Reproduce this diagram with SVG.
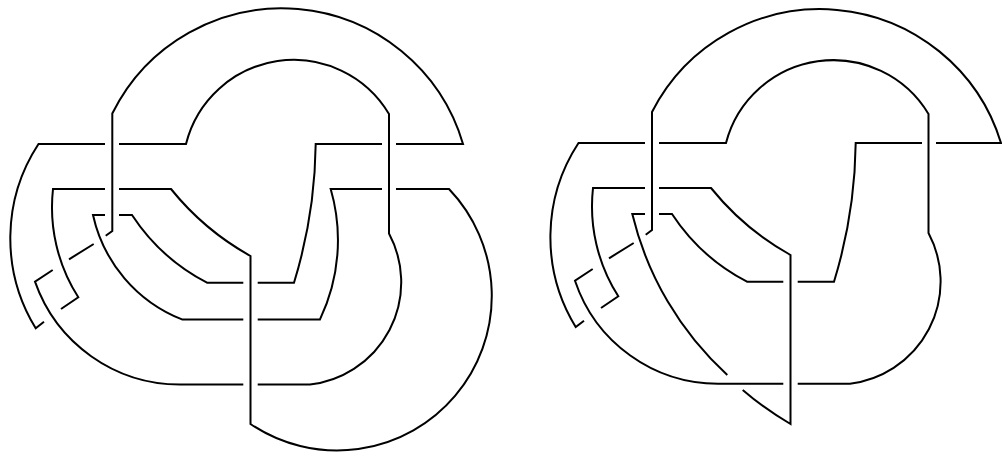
<svg xmlns="http://www.w3.org/2000/svg" width="1002" height="458" viewBox="0 0 1002 458">
<style>path{fill:none;stroke:#000;stroke-width:2;stroke-linejoin:miter;stroke-linecap:butt}</style>
<rect width="1002" height="458" fill="#fff"/>
<g id="left-knot">
<path d="M105 144H38.5A172 172 0 0 0 35.7 328.3L44 321.7"/>
<path d="M119 144H186A111 111 0 0 1 389 114V233.5A103 103 0 0 1 310 384.5H257.7"/>
<path d="M243.3 384.5H180A153.6 153.6 0 0 1 35 281.7L52.7 270"/>
<path d="M69 259.3L93.7 244"/>
<path d="M105.7 235.7L112.3 231V113.5A189 189 0 0 1 463 144H396"/>
<path d="M382 144H315.7A490 490 0 0 1 294 282.7H257.7"/>
<path d="M243.3 282.7H207A200 200 0 0 1 132 215H119"/>
<path d="M105 215H93A146 146 0 0 0 182 319.4H243.3"/>
<path d="M257.7 319.4H320A184 184 0 0 0 330.7 189H382"/>
<path d="M396 189H449A154.7 154.7 0 0 1 250.5 424V256A272 272 0 0 1 171 189H119"/>
<path d="M105 189H53A167 167 0 0 0 78.3 297.3L61 309"/>
</g>
<g id="right-knot">
<path d="M645 143H578.5A172 172 0 0 0 575.7 327L584 320.7"/>
<path d="M659 143H726A111 111 0 0 1 928.5 114V233A103 103 0 0 1 850 383.7H797.7"/>
<path d="M783.3 383.7H718A151 151 0 0 1 575 280.7L592.7 269"/>
<path d="M609 258.3L633.7 243"/>
<path d="M645.7 234.7L652 230V112A189 189 0 0 1 1001 143H936"/>
<path d="M922 143H855.7A490 490 0 0 1 834 281.7H797.7"/>
<path d="M783.3 281.7H747A200 200 0 0 1 672 214H659"/>
<path d="M645 214H632.3A319 319 0 0 0 727.3 375"/>
<path d="M742.7 390A319 319 0 0 0 790.5 424V255A272 272 0 0 1 711 188H659"/>
<path d="M645 188H593A167 167 0 0 0 618.3 296.3L601 308"/>
</g>
</svg>
